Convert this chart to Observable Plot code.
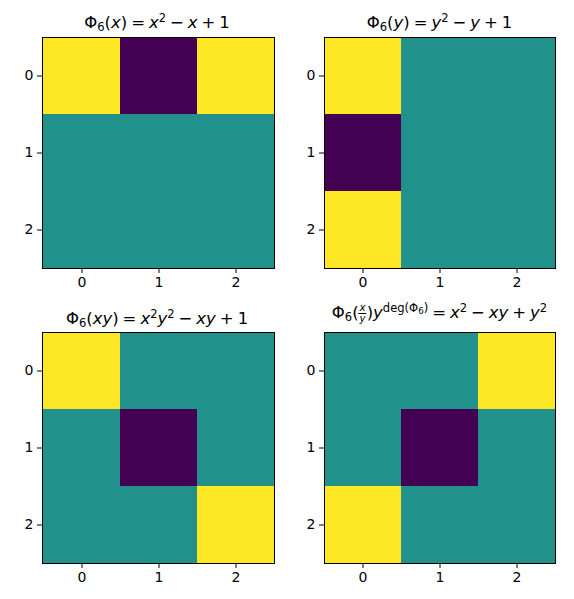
<!DOCTYPE html>
<html><head><meta charset="utf-8">
<script src="https://cdn.jsdelivr.net/npm/d3@7"></script>
<script src="https://cdn.jsdelivr.net/npm/@observablehq/plot@0.6"></script>
<style>
body{margin:0;background:#fff;font-family:"DejaVu Sans",sans-serif;}
#wrap{position:relative;width:574px;height:599px;}
.panel{position:absolute;}
.title{position:absolute;font-size:16.5px;white-space:nowrap;transform:translateX(-50%);color:#000;line-height:1;}
.title i{font-style:italic;}
.title sub{font-size:70%;vertical-align:-0.25em;}
.title sup{font-size:70%;vertical-align:0.55em;}
.sp{display:inline-block;width:0.24em;}
.frac{display:inline-block;vertical-align:-0.35em;text-align:center;font-size:62%;line-height:0.95;}
.frac span{display:block;}
.frac .num{border-bottom:1px solid #000;padding:0 1px;}
</style></head>
<body><div id="wrap"></div>
<script>
const rows = [0, 1, 2];
const cols = [0, 1, 2];
const phi6x  = [[1, -1, 1], [0, 0, 0], [0, 0, 0]];
const phi6y  = [[1, 0, 0], [-1, 0, 0], [1, 0, 0]];
const phi6xy = [[1, 0, 0], [0, -1, 0], [0, 0, 1]];
const phi6h  = [[0, 0, 1], [0, -1, 0], [1, 0, 0]];
const S = '<span class="sp"></span>';
const titles = [
  `Φ<sub>6</sub>(<i>x</i>)${S}=${S}<i>x</i><sup>2</sup>${S}−${S}<i>x</i>${S}+${S}1`,
  `Φ<sub>6</sub>(<i>y</i>)${S}=${S}<i>y</i><sup>2</sup>${S}−${S}<i>y</i>${S}+${S}1`,
  `Φ<sub>6</sub>(<i>xy</i>)${S}=${S}<i>x</i><sup>2</sup><i>y</i><sup>2</sup>${S}−${S}<i>xy</i>${S}+${S}1`,
  `Φ<sub>6</sub>(<span class="frac"><span class="num"><i>x</i></span><span><i>y</i></span></span>)<i>y</i><sup>deg(Φ<sub style="font-size:75%">6</sub>)</sup>${S}=${S}<i>x</i><sup>2</sup>${S}−${S}<i>xy</i>${S}+${S}<i>y</i><sup>2</sup>`
];
const mats = [phi6x, phi6y, phi6xy, phi6h];
const wrap = document.getElementById("wrap");
const layout = [
  {left: 0, top: 0, ml: 42, mr: 13, tx: 157, ty: 13},
  {left: 287, top: 0, ml: 37, mr: 19, tx: 439.5, ty: 13},
  {left: 0, top: 295, ml: 42, mr: 13, tx: 157, ty: 309},
  {left: 287, top: 295, ml: 37, mr: 19, tx: 439.5, ty: 303}
];
mats.forEach((m, k) => {
  const data = [];
  rows.forEach(r => cols.forEach(c => data.push({r, c, v: m[r][c]})));
  const L = layout[k];
  const svg = Plot.plot({
    width: 287, height: 300,
    marginLeft: L.ml, marginRight: L.mr, marginTop: 37, marginBottom: 32,
    style: {fontFamily: "DejaVu Sans, sans-serif", fontSize: "14px", color: "#000", background: "transparent"},
    x: {type: "band", domain: cols, padding: 0, label: null},
    y: {type: "band", domain: rows, padding: 0, label: null},
    color: {type: "linear", scheme: "viridis", domain: [-1, 1]},
    marks: [
      Plot.cell(data, {x: "c", y: "r", fill: "v", inset: 0}),
      Plot.frame({stroke: "#000", strokeWidth: 1}),
      Plot.axisX({tickSize: 5, tickPadding: 4, label: null, fill: "#000"}),
      Plot.axisY({tickSize: 5, tickPadding: 4, label: null, fill: "#000"})
    ]
  });
  const d = document.createElement("div");
  d.className = "panel";
  d.style.left = L.left + "px"; d.style.top = L.top + "px";
  d.appendChild(svg);
  wrap.appendChild(d);
  const t = document.createElement("div");
  t.className = "title";
  t.style.left = L.tx + "px"; t.style.top = L.ty + "px";
  t.innerHTML = titles[k];
  wrap.appendChild(t);
});
</script></body></html>
